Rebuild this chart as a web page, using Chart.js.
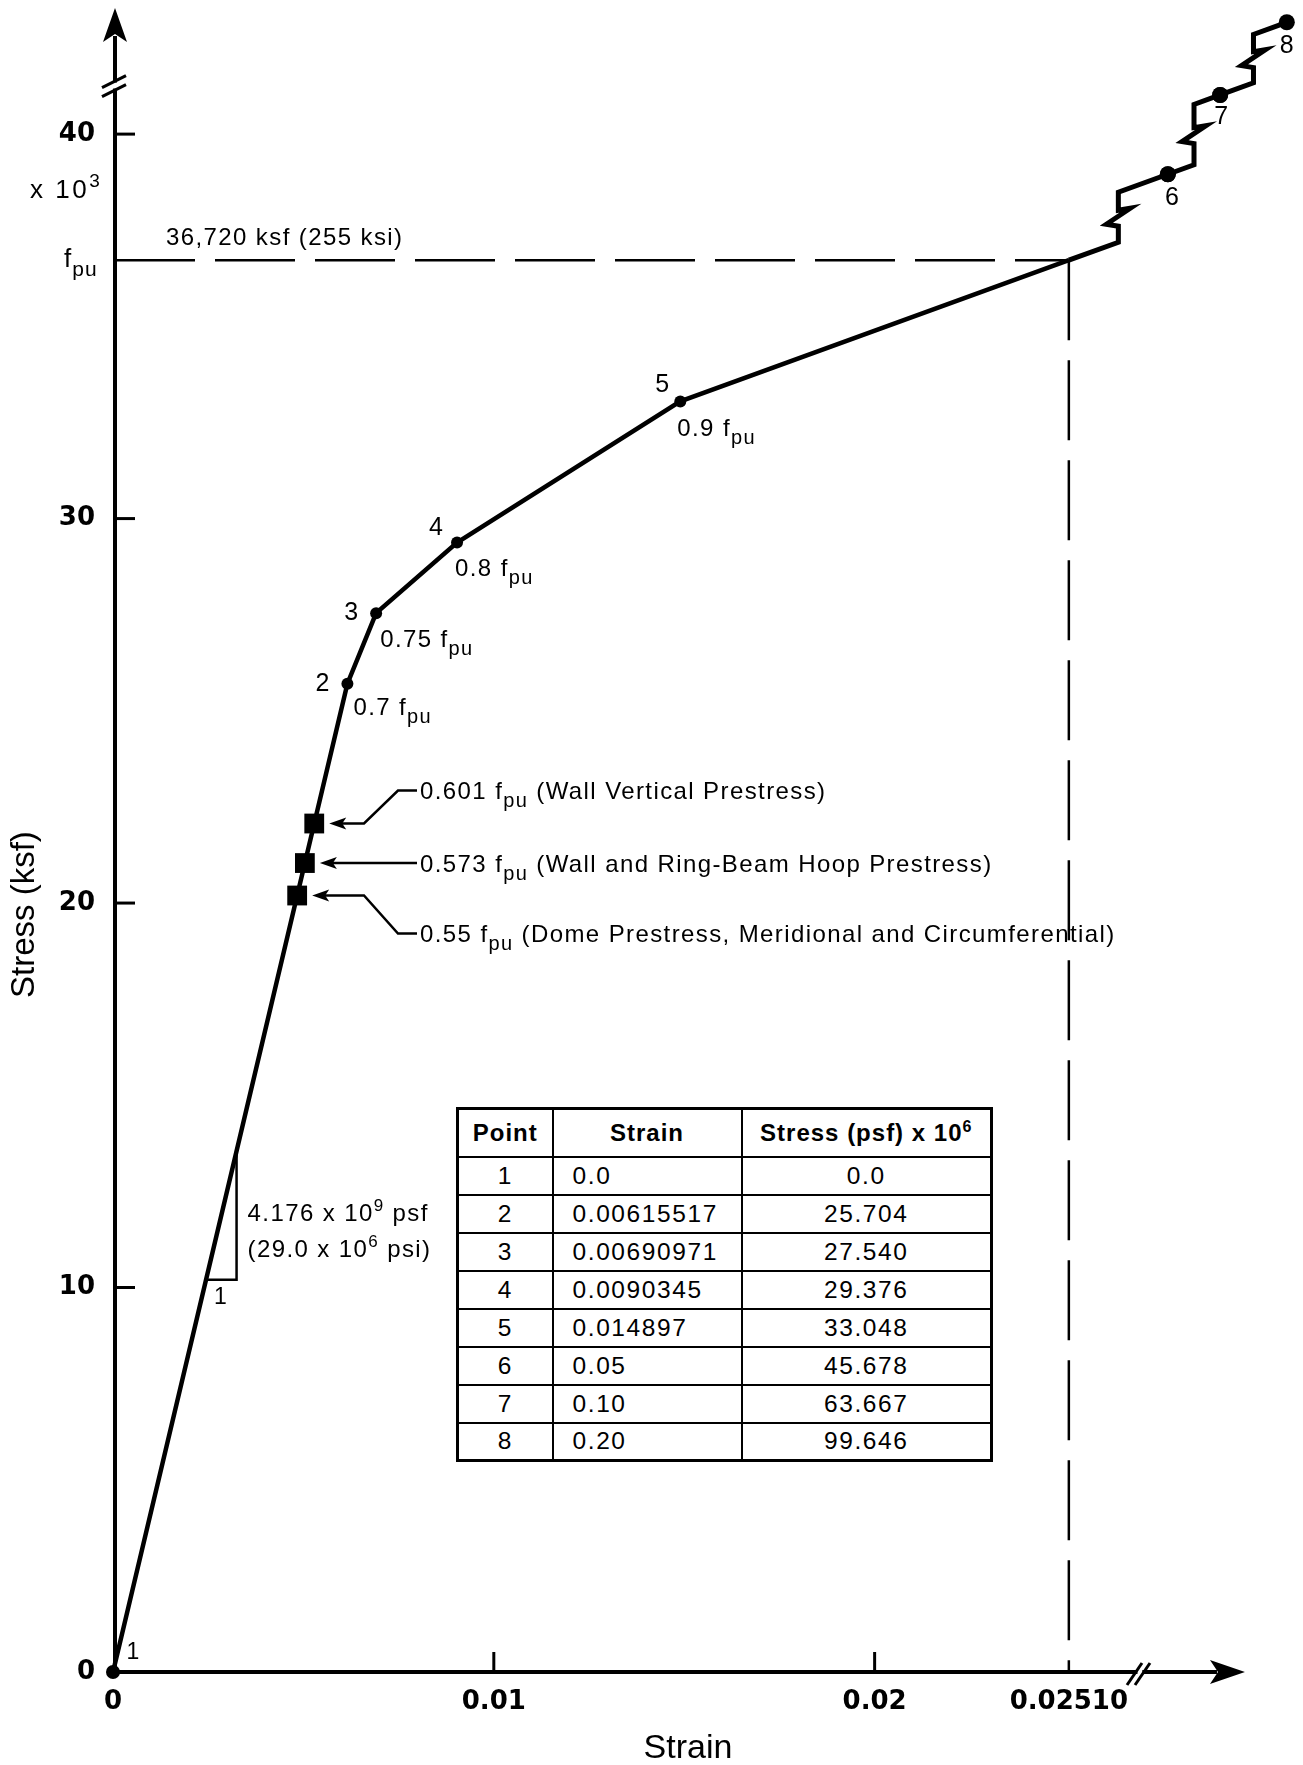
<!DOCTYPE html>
<html>
<head>
<meta charset="utf-8">
<title>Prestressing Tendon Stress-Strain Curve</title>
<script src="https://cdn.jsdelivr.net/npm/chart.js@4.4.1/dist/chart.umd.min.js"></script>
<style>
  html, body { margin: 0; padding: 0; background: #fff; }
  #fig { position: relative; width: 1303px; height: 1765px; overflow: hidden; }
  #fig canvas { position: absolute; left: 0; top: 0; }
  table.pts {
    position: absolute; left: 456px; top: 1107px; width: 534px;
    border-collapse: collapse; table-layout: fixed; border: 3px solid #000;
    font-family: 'Liberation Sans', Arial, Helvetica, sans-serif; color: #000; background: #fff;
  }
  table.pts th, table.pts td { border: 2px solid #000; padding: 0; white-space: nowrap; text-align: center; }
  table.pts thead tr { height: 48px; }
  table.pts tbody tr { height: 38px; }
  table.pts th { font-size: 24px; font-weight: bold; letter-spacing: 1px; }
  table.pts td { font-size: 24.5px; letter-spacing: 1.6px; }
  table.pts td.strain { text-align: left; padding-left: 19px; }
  table.pts sup { font-size: 16px; vertical-align: 9px; line-height: 0; }
</style>
</head>
<body>
<div id="fig">
  <canvas id="chart" width="1303" height="1765"></canvas>
  <table class="pts" id="pts">
    <colgroup><col style="width:95px"><col style="width:189px"><col style="width:250px"></colgroup>
    <thead><tr><th>Point</th><th>Strain</th><th>Stress (psf) x 10<sup>6</sup></th></tr></thead>
    <tbody></tbody>
  </table>
</div>
<script>
// Tendon test points; stress in psf x 10^6 (= ksf x 10^3)
const POINT_IDS = [1, 2, 3, 4, 5, 6, 7, 8];
const STRAIN = [0.0, 0.00615517, 0.00690971, 0.0090345, 0.014897, 0.05, 0.10, 0.20];
const STRESS = [0.0, 25.704, 27.540, 29.376, 33.048, 45.678, 63.667, 99.646];
const MAIN_COUNT = 5;            // points 1-5 lie on the scaled part of the curve

// Ultimate strength (ksf x 10^3) and the strain where the curve reaches it
const FPU = 36.72;
const FPU_STRAIN = 0.0251;
// Elastic modulus 4.176 x 10^9 psf, in ksf x 10^3 per unit strain
const MODULUS = 4176;

// Working prestress levels as fractions of fpu
const PRESTRESS_RATIO = [0.55, 0.573, 0.601];
const PRESTRESS_NOTE = [
  '(Dome Prestress, Meridional and Circumferential)',
  '(Wall and Ring-Beam Hoop Prestress)',
  '(Wall Vertical Prestress)'
];

// Axis ticks
const X_TICKS = [0, 0.01, 0.02, 0.0251];
const X_TICK_LABELS = ['0', '0.01', '0.02', '0.02510'];
const Y_TICKS = [0, 10, 20, 30, 40];
const Y_TICK_LABELS = ['0', '10', '20', '30', '40'];

// ---------------------------------------------------------------------------
// Axis extents and breaks (axis units)
const X_MAX = 0.03117, Y_MAX = 43.28;
const X_BREAK_AT = 0.026916, X_ARROW = 0.029725, Y_BREAK_AT = 41.25;

// Past the breaks the tail (points 6-8) is plotted on a compressed, not-to-scale axis
const X_TAIL = { from: FPU_STRAIN, gap: 0.001528, k: 0.014272, p: 0.35 };
const Y_TAIL = { from: FPU, gap: 0.455, k: -333.4, p: -1 };
function fold(v, t) {
  return v <= t.from ? v : t.from + t.gap + t.k * (Math.pow(v, t.p) - Math.pow(t.from, t.p));
}
const FOLDS = { x: v => fold(v, X_TAIL), yTail: v => fold(v, Y_TAIL) };

class CompressedScale extends Chart.LinearScale {
  static id = 'compressed';
  static defaults = Chart.LinearScale.defaults;
  getPixelForValue(v) {
    const f = FOLDS[this.id];
    return super.getPixelForValue(f && v !== null && v !== undefined ? f(v) : v);
  }
}
Chart.register(CompressedScale);

// ---------------------------------------------------------------------------
const INK = '#000';
const SANS = "'Liberation Sans', Arial, Helvetica, sans-serif";

// label placement (pixels, relative to the marker)
const ID_OFFSET = [[20, -19], [-25, 0], [-25, 0], [-21, -14], [-18, -16], [4, 24], [1, 22], [0, 24]];
const ID_SIZE = [23, 25, 25, 25, 25, 25, 25, 25];
const RATIO_OFFSET = [null, [6, 31], [4, 34], [-2, 33], [-3, 35]];
const NOTE_X = 420;
const NOTE_DY = [46, 9, -25];
const STEP_AT = 0.5;
const SLOPE_TRI = [10.2, 13.55];
const TEXT_SIZE = 24, TEXT_SPACING = 1.4;

function text(ctx, s, x, y, o = {}) {
  const { size = TEXT_SIZE, weight = 'normal', align = 'left', base = 'alphabetic', spacing = TEXT_SPACING } = o;
  ctx.font = `${weight} ${size}px ${SANS}`;
  ctx.letterSpacing = `${spacing}px`;
  ctx.textAlign = align;
  ctx.textBaseline = base;
  ctx.fillText(s, x, y);
  const w = ctx.measureText(s).width;
  ctx.letterSpacing = '0px';
  return w;
}
function rich(ctx, parts, x, y, size = TEXT_SIZE, spacing = TEXT_SPACING) {
  let cx = x;
  for (const p of parts) {
    const s = p.sub ? Math.round(size * 0.82) : p.sup ? Math.round(size * 0.72) : size;
    const dy = p.sub ? Math.round(size * 0.33) : p.sup ? -Math.round(size * 0.42) : 0;
    cx += text(ctx, p.t, cx, y + dy, { size: s, spacing });
  }
  return cx - x;
}
const withFpu = (before, after) => [{ t: before + ' f' }, { t: 'pu', sub: true }].concat(after ? [{ t: ' ' + after }] : []);

function poly(ctx, pts) {
  ctx.beginPath();
  ctx.moveTo(pts[0][0], pts[0][1]);
  for (let i = 1; i < pts.length; i++) ctx.lineTo(pts[i][0], pts[i][1]);
  ctx.stroke();
}
function arrowHead(ctx, tx, ty, ux, uy, len, half, notch) {
  const bx = tx - ux * len, by = ty - uy * len, nx = -uy, ny = ux;
  ctx.beginPath();
  ctx.moveTo(tx, ty);
  ctx.lineTo(bx + nx * half, by + ny * half);
  ctx.lineTo(tx - ux * (len - notch), ty - uy * (len - notch));
  ctx.lineTo(bx - nx * half, by - ny * half);
  ctx.closePath();
  ctx.fill();
}

// Axes, guides, breaks, leaders and all annotation text
const figure = {
  id: 'figure',
  beforeDatasetsDraw(chart) {
    const { ctx, chartArea: area } = chart;
    const xs = chart.scales.x, ys = chart.scales.y;
    const x0 = xs.getPixelForValue(0), y0 = ys.getPixelForValue(0);
    const ax = x0 + 2;
    const xf = xs.getPixelForValue(FPU_STRAIN), yf = ys.getPixelForValue(FPU);
    ctx.save();
    ctx.strokeStyle = INK; ctx.fillStyle = INK; ctx.lineCap = 'butt'; ctx.lineJoin = 'miter';

    // fpu guide lines
    ctx.lineWidth = 2.5;
    ctx.setLineDash([80, 20]);
    poly(ctx, [[ax, yf], [xf, yf]]);
    poly(ctx, [[xf, yf], [xf, y0]]);
    ctx.setLineDash([]);

    // axes
    ctx.lineWidth = 4;
    poly(ctx, [[ax, y0 + 2], [ax, area.top + 28]]);
    arrowHead(ctx, ax, area.top, 0, -1, 34, 12, 8);
    const xEnd = xs.getPixelForDecimal(X_ARROW / X_MAX);
    poly(ctx, [[x0, y0], [xEnd - 28, y0]]);
    arrowHead(ctx, xEnd, y0, 1, 0, 35, 12, 8);

    // tick marks
    ctx.lineWidth = 3;
    Y_TICKS.filter(v => v > 0).forEach(v => {
      const y = ys.getPixelForValue(v);
      poly(ctx, [[ax, y], [ax + 20, y]]);
    });
    X_TICKS.filter(v => v > 0 && v < FPU_STRAIN).forEach(v => {
      const x = xs.getPixelForValue(v);
      poly(ctx, [[x, y0], [x, y0 - 20]]);
    });

    // axis breaks
    const yb = ys.getPixelForValue(Y_BREAK_AT);
    ctx.fillStyle = '#fff'; ctx.fillRect(ax - 4, yb - 3.5, 8, 6); ctx.fillStyle = INK;
    [-4.5, 4.5].forEach(o => poly(ctx, [[ax - 13, yb + o + 6], [ax + 11, yb + o - 6]]));
    const xb = xs.getPixelForDecimal(X_BREAK_AT / X_MAX);
    ctx.fillStyle = '#fff'; ctx.fillRect(xb - 0.5, y0 - 3, 4.8, 6); ctx.fillStyle = INK;
    [-4, 4].forEach(o => poly(ctx, [[xb + o - 7, y0 + 13], [xb + o + 8, y0 - 9]]));

    // modulus triangle
    ctx.lineWidth = 2.5;
    const tA = [xs.getPixelForValue(SLOPE_TRI[0] / MODULUS), ys.getPixelForValue(SLOPE_TRI[0])];
    const tB = [xs.getPixelForValue(SLOPE_TRI[1] / MODULUS), ys.getPixelForValue(SLOPE_TRI[1])];
    poly(ctx, [tA, [tB[0], tA[1]], tB]);

    // leaders to the prestress markers
    chart.getDatasetMeta(1).data.forEach((p, i) => {
      const tx = p.x + 15, ty = p.y;
      const ly = ty + NOTE_DY[i] - 8;
      const pts = Math.abs(ly - ty) < 4
        ? [[tx + 10, ty], [NOTE_X - 3, ty]]
        : [[tx + 10, ty], [NOTE_X - 56, ty], [NOTE_X - 22, ly], [NOTE_X - 3, ly]];
      poly(ctx, pts);
      arrowHead(ctx, tx, ty, -1, 0, 17, 6, 4);
    });
    ctx.restore();
  },

  afterDatasetsDraw(chart) {
    const { ctx } = chart;
    const xs = chart.scales.x, ys = chart.scales.y;
    const yf = ys.getPixelForValue(FPU);
    const main = chart.getDatasetMeta(0).data;
    const tail = chart.getDatasetMeta(2).data;
    ctx.save();
    ctx.strokeStyle = INK; ctx.fillStyle = INK;

    // stepped, broken tail from fpu through points 6-8
    const p5 = main[MAIN_COUNT - 1], pf = main[MAIN_COUNT];
    const slope = (pf.y - p5.y) / (pf.x - p5.x);
    const chain = [pf].concat(tail);
    ctx.lineWidth = 5; ctx.lineJoin = 'miter'; ctx.lineCap = 'butt';
    for (let i = 0; i < chain.length - 1; i++) {
      const a = chain[i], b = chain[i + 1];
      const sx = a.x + STEP_AT * (b.x - a.x);
      const ya = a.y + slope * (sx - a.x);
      const yb = b.y - slope * (b.x - sx);
      const ym = (ya + yb) / 2;
      poly(ctx, [[a.x, a.y], [sx, ya], [sx, ym + 9], [sx - 12, ym + 7], [sx + 12, ym - 9], [sx, ym - 7], [sx, yb], [b.x, b.y]]);
    }
    // redraw the tail dots on top of the stepped line
    tail.forEach((p, i) => {
      ctx.beginPath();
      ctx.arc(p.x, p.y, chart.data.datasets[2].pointRadius[i], 0, Math.PI * 2);
      ctx.fill();
    });

    // point numbers
    const pts = main.slice(0, MAIN_COUNT).concat(tail);
    pts.forEach((p, i) => {
      text(ctx, String(POINT_IDS[i]), p.x + ID_OFFSET[i][0], p.y + ID_OFFSET[i][1],
        { size: ID_SIZE[i], align: 'center', base: 'middle', spacing: 0 });
    });
    // stress as a fraction of fpu
    for (let i = 1; i < MAIN_COUNT; i++) {
      const r = String(+(STRESS[i] / FPU).toFixed(3));
      rich(ctx, withFpu(r), main[i].x + RATIO_OFFSET[i][0], main[i].y + RATIO_OFFSET[i][1]);
    }
    // prestress notes
    chart.getDatasetMeta(1).data.forEach((p, i) => {
      rich(ctx, withFpu(String(PRESTRESS_RATIO[i]), PRESTRESS_NOTE[i]), NOTE_X, p.y + NOTE_DY[i]);
    });

    // modulus note
    const tA = [xs.getPixelForValue(SLOPE_TRI[0] / MODULUS), ys.getPixelForValue(SLOPE_TRI[0])];
    const tB = [xs.getPixelForValue(SLOPE_TRI[1] / MODULUS), ys.getPixelForValue(SLOPE_TRI[1])];
    const ePsf = (MODULUS / 1000).toFixed(3);
    const ePsi = (MODULUS / 144).toFixed(1);
    rich(ctx, [{ t: `${ePsf} x 10` }, { t: '9', sup: true }, { t: ' psf' }], tB[0] + 11, tA[1] - 59);
    rich(ctx, [{ t: `(${ePsi} x 10` }, { t: '6', sup: true }, { t: ' psi)' }], tB[0] + 11, tA[1] - 23);
    text(ctx, '1', (tA[0] + tB[0]) / 2 - 1, tA[1] + 18, { size: 23, align: 'center', base: 'middle', spacing: 0 });

    // fpu value on the guide line
    const ksf = Math.round(FPU * 1000).toLocaleString('en-US');
    const ksi = Math.round(FPU * 1000 / 144);
    text(ctx, `${ksf} ksf (${ksi} ksi)`, 166, yf - 15);

    // y-axis extras: multiplier and fpu level
    const y40 = ys.getPixelForValue(40);
    rich(ctx, [{ t: 'x 10' }, { t: '3', sup: true }], 30, y40 + 64, 26, 2.5);
    rich(ctx, [{ t: 'f' }, { t: 'pu', sub: true }], 64, yf + 7, 26, 1);

    // axis titles
    text(ctx, 'Strain', xs.getPixelForValue(0.0151), 1758, { size: 34, align: 'center', spacing: 0 });
    ctx.save();
    ctx.translate(25, ys.getPixelForValue(19.7));
    ctx.rotate(-Math.PI / 2);
    text(ctx, 'Stress (ksf)', 0, 0, { size: 33, align: 'center', base: 'middle', spacing: 0 });
    ctx.restore();

    ctx.restore();
  }
};

// ---------------------------------------------------------------------------
const mainData = STRAIN.slice(0, MAIN_COUNT).map((x, i) => ({ x, y: STRESS[i] }));
mainData.push({ x: FPU_STRAIN, y: FPU });
const tailData = STRAIN.slice(MAIN_COUNT).map((x, i) => ({ x, y: STRESS[MAIN_COUNT + i] }));
const prestressData = PRESTRESS_RATIO.map(r => ({ x: r * FPU / MODULUS, y: r * FPU }));

const tickFont = { family: "'DejaVu Sans', sans-serif", size: 26, weight: 'bold' };

new Chart(document.getElementById('chart'), {
  type: 'line',
  data: {
    datasets: [
      {
        data: mainData, xAxisID: 'x', yAxisID: 'y',
        borderColor: INK, borderWidth: 4.5, tension: 0, clip: false,
        pointRadius: [7, 6, 6, 6, 6, 0], pointBackgroundColor: INK, pointBorderWidth: 0
      },
      {
        data: prestressData, xAxisID: 'x', yAxisID: 'y', showLine: false, clip: false,
        pointStyle: 'rect', pointRadius: 14, pointBackgroundColor: INK, pointBorderWidth: 0
      },
      {
        data: tailData, xAxisID: 'x', yAxisID: 'yTail', showLine: false, clip: false,
        pointRadius: [8, 8, 8], pointBackgroundColor: INK, pointBorderWidth: 0
      }
    ]
  },
  options: {
    responsive: false,
    animation: false,
    devicePixelRatio: 1,
    events: [],
    layout: { autoPadding: false, padding: { left: 0, right: 3, top: 8, bottom: 0 } },
    plugins: { legend: { display: false }, tooltip: { enabled: false } },
    scales: {
      x: {
        type: 'compressed', position: 'bottom', min: 0, max: X_MAX, bounds: 'data',
        grid: { display: false, drawTicks: false }, border: { display: false },
        afterBuildTicks: s => { s.ticks = X_TICKS.map(value => ({ value })); },
        afterFit: s => { s.height = 93; s.paddingLeft = 0; s.paddingRight = 0; },
        ticks: { autoSkip: false, maxRotation: 0, padding: 15, color: INK, font: tickFont,
                 callback: (v, i) => X_TICK_LABELS[i] }
      },
      y: {
        type: 'linear', position: 'left', min: 0, max: Y_MAX, bounds: 'data',
        grid: { display: false, drawTicks: false }, border: { display: false },
        afterBuildTicks: s => { s.ticks = Y_TICKS.map(value => ({ value })); },
        afterFit: s => { s.width = 113; s.paddingTop = 0; s.paddingBottom = 0; },
        ticks: { autoSkip: false, padding: 18, color: INK, font: tickFont,
                 callback: (v, i) => Y_TICK_LABELS[i] }
      },
      yTail: { type: 'compressed', position: 'left', display: false, min: 0, max: Y_MAX }
    }
  },
  plugins: [figure]
});

// data table
const fmtStrain = v => v === 0 ? '0.0' : v >= 0.05 ? v.toFixed(2) : String(v);
const fmtStress = v => v === 0 ? '0.0' : v.toFixed(3);
const tbody = document.querySelector('#pts tbody');
POINT_IDS.forEach((id, i) => {
  const tr = document.createElement('tr');
  tr.innerHTML = `<td>${id}</td><td class="strain">${fmtStrain(STRAIN[i])}</td><td>${fmtStress(STRESS[i])}</td>`;
  tbody.appendChild(tr);
});
</script>
</body>
</html>
